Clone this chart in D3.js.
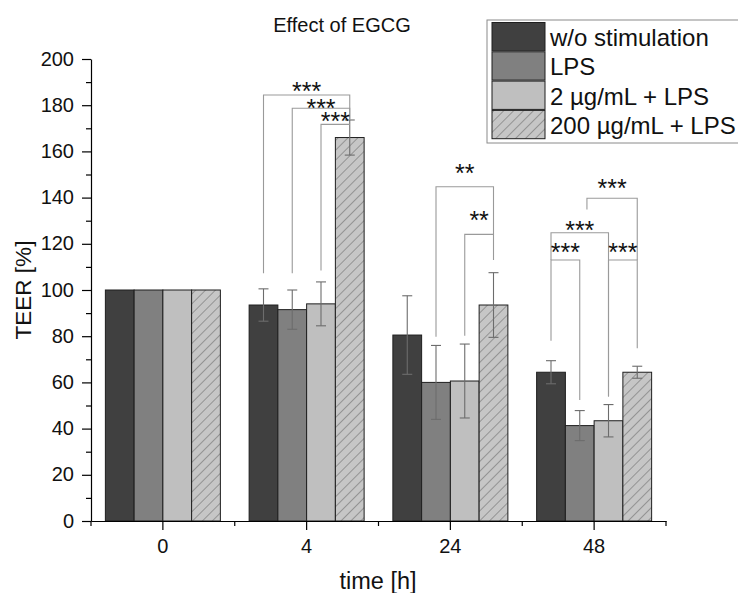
<!DOCTYPE html>
<html><head><meta charset="utf-8">
<script src="https://cdn.jsdelivr.net/npm/d3@7"></script>
<style>body{margin:0;background:#fff} text{font-family:"Liberation Sans",Arial,sans-serif;fill:#111}</style>
</head><body><svg id="c" width="738" height="593"></svg>
<script>
// ---- data ----
const categories = ["0", "4", "24", "48"];
const seriesNames = ["w/o stimulation", "LPS", "2 µg/mL + LPS", "200 µg/mL + LPS"];
const valuesWo   = [100, 93.5, 80.5, 64.4];
const valuesLPS  = [100, 91.5, 60.0, 41.3];
const values2    = [100, 94.0, 60.6, 43.4];
const values200  = [100, 166.0, 93.5, 64.4];
const errWo      = [0, 7.0, 17.0, 5.0];
const errLPS     = [0, 8.5, 16.0, 6.5];
const err2       = [0, 9.5, 16.0, 7.0];
const err200     = [0, 7.6, 14.0, 2.6];
const yTickValues = [0, 20, 40, 60, 80, 100, 120, 140, 160, 180, 200];
const yMinorValues = [10, 30, 50, 70, 90, 110, 130, 150, 170, 190];
const titleText = "Effect of EGCG";
const xLabel = "time [h]";
const yLabel = "TEER [%]";
// significance brackets (bar indices within a time group, heights in TEER %)
const brackets = [
  {group: "4",  from: 0, to: 3, top: 184.4, leftEnd: 107.2, rightEnd: 173.6, label: "***", labelAt: 186.9},
  {group: "4",  from: 1, to: 3, top: 178.7, leftEnd: 107.2, rightEnd: 173.6, label: "***", labelAt: 179.4},
  {group: "4",  from: 2, to: 3, top: 171.7, leftEnd: 108.4, rightEnd: 171.7, label: "***", labelAt: 173.6},
  {group: "24", from: 1, to: 3, top: 144.7, leftEnd: 79.8,  rightEnd: 113.0, label: "**",  labelAt: 151.2},
  {group: "24", from: 2, to: 3, top: 124.1, leftEnd: 80.2,  rightEnd: 124.1, label: "**",  labelAt: 131.0},
  {group: "48", from: 0, to: 1, top: 113.0, leftEnd: 78.0,  rightEnd: 52.4,  label: "***", labelAt: 117.0},
  {group: "48", from: 0, to: 2, top: 124.8, leftEnd: 113.0, rightEnd: 54.1,  label: "***", labelAt: 126.7},
  {group: "48", from: 2, to: 3, top: 113.0, leftEnd: 53.8,  rightEnd: 74.8,  label: "***", labelAt: 117.0},
  {group: "48", from: 1.25, to: 3, top: 139.7, leftEnd: 134.8, rightEnd: 113.0, label: "***", labelAt: 144.7}
];

const seriesValues = [valuesWo, valuesLPS, values2, values200];
const seriesErrors = [errWo, errLPS, err2, err200];
const fills = ["#404040", "#808080", "#bfbfbf", "url(#hatch)"];

// ---- chart ----
const svg = d3.select("#c");
const defs = svg.append("defs");
const pat = defs.append("pattern").attr("id", "hatch").attr("patternUnits", "userSpaceOnUse")
  .attr("width", 7).attr("height", 7).attr("patternTransform", "rotate(45)");
pat.append("rect").attr("width", 7).attr("height", 7).attr("fill", "#c6c6c6");
pat.append("line").attr("x1", 0).attr("y1", 0).attr("x2", 0).attr("y2", 7)
  .attr("stroke", "#555").attr("stroke-width", 0.9);

const x = d3.scaleBand().domain(categories).range([91, 666]).paddingInner(0.2).paddingOuter(0.1);
const xs = d3.scaleBand().domain(d3.range(seriesNames.length)).range([0, x.bandwidth()]);
const y = d3.scaleLinear().domain([0, 200]).range([521, 59]);
const barCenter = (g, i) => x(g) + (i + 0.5) * xs.step();

const rows = [];
categories.forEach((c, gi) => seriesNames.forEach((s, si) => rows.push({c, si, v: seriesValues[si][gi], e: seriesErrors[si][gi]})));

// bars
svg.append("g").selectAll("rect").data(rows).join("rect")
  .attr("x", d => x(d.c) + xs(d.si)).attr("width", xs.bandwidth())
  .attr("y", d => y(d.v)).attr("height", d => y(0) - y(d.v))
  .attr("fill", d => fills[d.si]).attr("stroke", "#1e1e1e").attr("stroke-width", 1);

// error bars
const eg = svg.append("g").attr("stroke", "#6c6c6c").attr("stroke-width", 1.1).attr("fill", "none");
rows.filter(d => d.e > 0).forEach(d => {
  const cx = barCenter(d.c, d.si);
  eg.append("line").attr("x1", cx).attr("x2", cx).attr("y1", y(d.v - d.e)).attr("y2", y(d.v + d.e));
  [d.v - d.e, d.v + d.e].forEach(v => eg.append("line").attr("x1", cx - 5).attr("x2", cx + 5).attr("y1", y(v)).attr("y2", y(v)));
});

// brackets
const bg = svg.append("g").attr("stroke", "#9a9a9a").attr("stroke-width", 1.1).attr("fill", "none");
brackets.forEach(b => {
  const x1 = barCenter(b.group, b.from), x2 = barCenter(b.group, b.to);
  bg.append("path").attr("d", `M${x1},${y(b.leftEnd)}V${y(b.top)}H${x2}V${y(b.rightEnd)}`);
  svg.append("text").attr("x", (x1 + x2) / 2).attr("y", y(b.labelAt) + 10.5)
    .attr("text-anchor", "middle").style("font-size", "25px").text(b.label);
});

// axes
const axisY = d3.axisLeft(y).tickValues(yTickValues).tickSize(9).tickSizeOuter(0).tickPadding(8);
const gy = svg.append("g").attr("transform", "translate(91,0)").call(axisY);
gy.selectAll("text").style("font-size", "20px").attr("dy", "0.3em");
svg.append("g").attr("transform", "translate(91,0)")
  .call(d3.axisLeft(y).tickValues(yMinorValues).tickSize(5).tickSizeOuter(0).tickFormat(""))
  .select(".domain").remove();

const axisX = d3.axisBottom(x).tickSize(9).tickSizeOuter(0).tickPadding(9);
const gx = svg.append("g").attr("transform", "translate(0,521)").call(axisX);
gx.selectAll("text").style("font-size", "20px");
const edges = d3.range(categories.length + 1).map(k => x.range()[0] + k * x.step());
svg.append("g").selectAll("line").data(edges).join("line")
  .attr("x1", d => d).attr("x2", d => d).attr("y1", 521).attr("y2", 526)
  .attr("stroke", "#000").attr("stroke-width", 1.2);
svg.selectAll(".domain, .tick line").attr("stroke", "#000").attr("stroke-width", 1.2);

// labels
svg.append("text").attr("x", 342).attr("y", 32).attr("text-anchor", "middle").style("font-size", "20px").text(titleText);
svg.append("text").attr("x", 378).attr("y", 589).attr("text-anchor", "middle").style("font-size", "23.5px").text(xLabel);
svg.append("text").attr("transform", "translate(31,290) rotate(-90)").attr("text-anchor", "middle").style("font-size", "22.5px").text(yLabel);

// legend
const lg = svg.append("g");
lg.append("rect").attr("x", 487).attr("y", 20).attr("width", 270).attr("height", 123)
  .attr("fill", "#fff").attr("stroke", "#8a8a8a").attr("stroke-width", 1);
seriesNames.forEach((s, i) => {
  const top = 22.5 + i * 29.3;
  lg.append("rect").attr("x", 492).attr("y", top).attr("width", 53).attr("height", 28.3)
    .attr("fill", fills[i]).attr("stroke", "#1e1e1e").attr("stroke-width", 1);
  lg.append("text").attr("x", 550).attr("y", top + 23.5).style("font-size", "24px").text(s);
});
</script></body></html>
